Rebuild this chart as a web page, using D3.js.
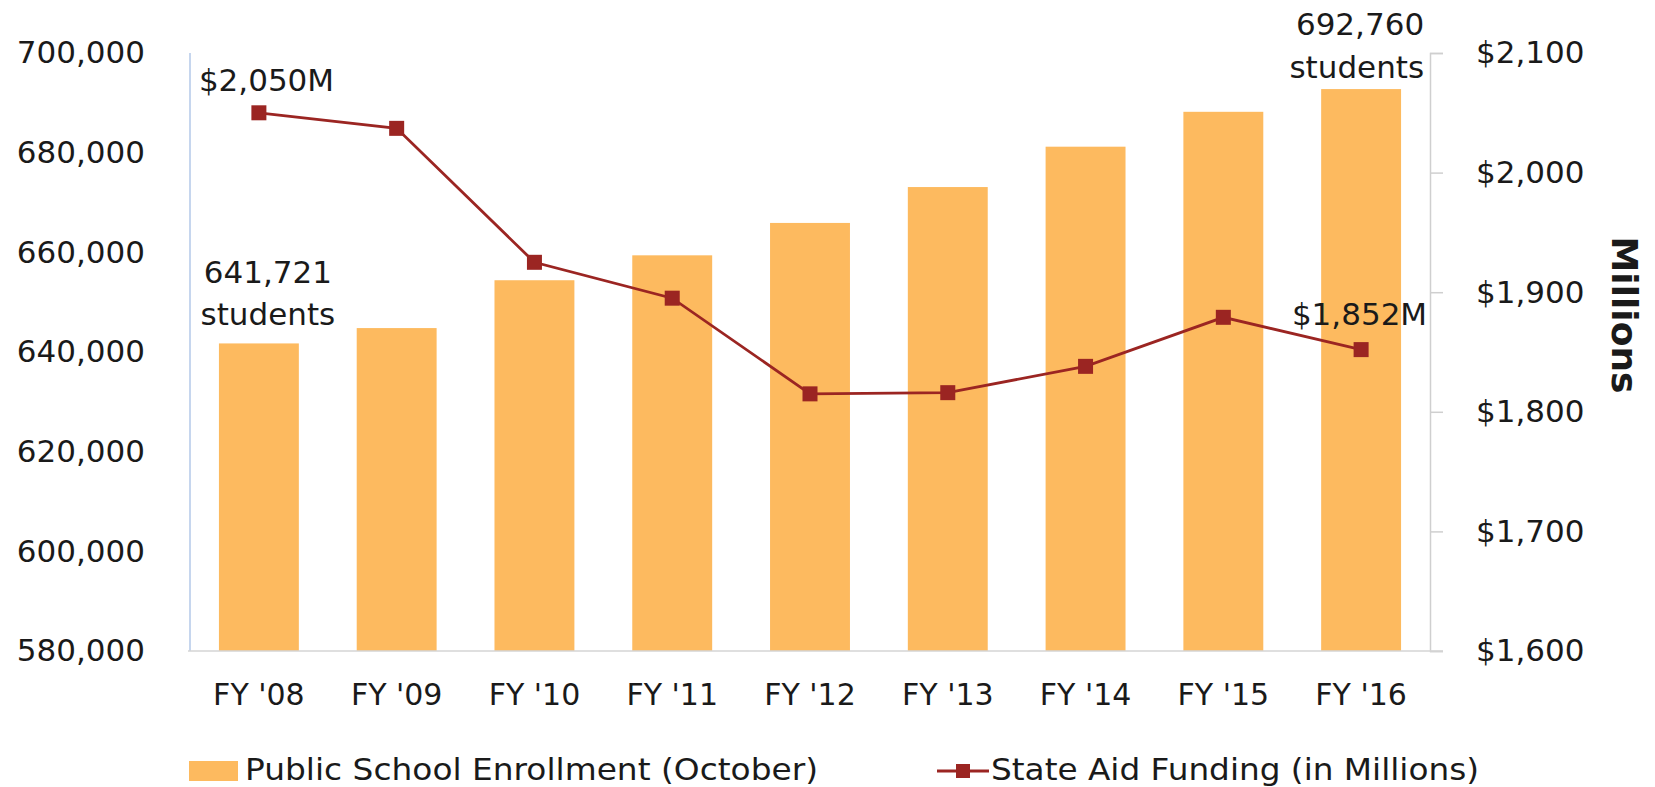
<!DOCTYPE html>
<html>
<head>
<meta charset="utf-8">
<script src="https://cdn.jsdelivr.net/npm/d3@7"></script>
<style>
  body { margin: 0; background: #fff; }
  text { font-family: "DejaVu Sans", sans-serif; fill: #1a1a1a; }
</style>
</head>
<body>
<div id="chart"></div>
<script>
var years = ["FY '08", "FY '09", "FY '10", "FY '11", "FY '12", "FY '13", "FY '14", "FY '15", "FY '16"];
var enrollment = [641721, 644800, 654400, 659400, 665900, 673100, 681200, 688200, 692760];
var stateAid = [2050, 2037, 1925, 1895, 1815, 1816, 1838, 1879, 1852];
var enrollTicks = [580000, 600000, 620000, 640000, 660000, 680000, 700000];
var aidTicks = [1600, 1700, 1800, 1900, 2000, 2100];

var barColor = "#fdba5f",
  lineColor = "#9b2522";

var width = 1655,
  height = 787;
var plot = { left: 190, right: 1430, top: 53, bottom: 651 };

var svg = d3.select("#chart")
  .append("svg")
  .attr("width", width)
  .attr("height", height);

var x = d3.scaleBand()
  .domain(years)
  .range([plot.left, plot.right])
  .paddingInner(0.42)
  .paddingOuter(0.21);

var yLeft = d3.scaleLinear()
  .domain([580000, 700000])
  .range([plot.bottom, plot.top]);

var yRight = d3.scaleLinear()
  .domain([1600, 2100])
  .range([plot.bottom, plot.top]);

function xc(i) {
  return x(years[i]) + x.bandwidth() / 2;
}

// bars
svg.append("g")
  .selectAll("rect")
  .data(enrollment)
  .enter()
  .append("rect")
  .attr("x", function(d, i) { return x(years[i]); })
  .attr("y", function(d) { return yLeft(d); })
  .attr("width", x.bandwidth())
  .attr("height", function(d) { return plot.bottom - yLeft(d); })
  .style("fill", barColor);

// left axis
var gl = svg.append("g")
  .attr("transform", "translate(" + plot.left + ",0)")
  .call(d3.axisLeft(yLeft).tickValues(enrollTicks).tickSize(0).tickPadding(45).tickFormat(d3.format(",")));
gl.select(".domain").remove();
gl.selectAll("text").style("font-size", "31px").style("font-family", "DejaVu Sans").attr("fill", "#1a1a1a");

svg.append("line")
  .attr("x1", plot.left).attr("x2", plot.left)
  .attr("y1", plot.top).attr("y2", plot.bottom)
  .attr("stroke", "#b3c9e8")
  .attr("stroke-width", 1.5);

// right axis
var gr = svg.append("g")
  .attr("transform", "translate(" + plot.right + ",0)")
  .call(d3.axisRight(yRight).tickValues(aidTicks).tickSize(13).tickSizeOuter(13).tickPadding(33)
    .tickFormat(function(d) { return "$" + d3.format(",")(d); }));
gr.selectAll("path, line").attr("stroke", "#cfcfcf").attr("stroke-width", 1.5);
gr.selectAll("text").style("font-size", "31px").style("font-family", "DejaVu Sans").attr("fill", "#1a1a1a");

// bottom axis
var gb = svg.append("g")
  .attr("transform", "translate(0," + plot.bottom + ")")
  .call(d3.axisBottom(x).tickSize(0).tickPadding(33));
gb.select(".domain").remove();
gb.selectAll("text").style("font-size", "30px").style("font-family", "DejaVu Sans").attr("fill", "#1a1a1a");

svg.append("line")
  .attr("x1", plot.left - 2).attr("x2", plot.right + 13)
  .attr("y1", plot.bottom).attr("y2", plot.bottom)
  .attr("stroke", "#d4d4d4")
  .attr("stroke-width", 1.5);

// state aid line
var valueline = d3.line()
  .x(function(d, i) { return xc(i); })
  .y(function(d) { return yRight(d); });

svg.append("path")
  .datum(stateAid)
  .attr("d", valueline)
  .attr("stroke", lineColor)
  .attr("stroke-width", 2.8)
  .style("fill", "none");

var ms = 15;
svg.append("g")
  .selectAll("rect")
  .data(stateAid)
  .enter()
  .append("rect")
  .attr("x", function(d, i) { return xc(i) - ms / 2; })
  .attr("y", function(d) { return yRight(d) - ms / 2; })
  .attr("width", ms)
  .attr("height", ms)
  .style("fill", lineColor);

// annotations
var last = years.length - 1;
svg.append("text")
  .attr("x", xc(0) - 60)
  .attr("y", yRight(stateAid[0]) - 22)
  .style("font-size", "31px")
  .text("$2,050M");

svg.append("text")
  .attr("x", xc(0) + 9)
  .attr("y", yLeft(enrollment[0]) - 60)
  .style("font-size", "31px")
  .style("text-anchor", "middle")
  .text("641,721");
svg.append("text")
  .attr("x", xc(0) + 9)
  .attr("y", yLeft(enrollment[0]) - 18)
  .style("font-size", "31px")
  .style("text-anchor", "middle")
  .text("students");

svg.append("text")
  .attr("x", xc(last) + 63)
  .attr("y", yLeft(enrollment[last]) - 54)
  .style("font-size", "31px")
  .style("text-anchor", "end")
  .text("692,760");
svg.append("text")
  .attr("x", xc(last) + 63)
  .attr("y", yLeft(enrollment[last]) - 11)
  .style("font-size", "31px")
  .style("text-anchor", "end")
  .text("students");

svg.append("text")
  .attr("x", xc(last) + 66)
  .attr("y", yRight(stateAid[last]) - 25)
  .style("font-size", "31px")
  .style("text-anchor", "end")
  .text("$1,852M");

// right axis title
svg.append("text")
  .attr("transform", "translate(1624,315) rotate(90)")
  .style("font-size", "36px")
  .style("font-weight", "bold")
  .style("text-anchor", "middle")
  .attr("dominant-baseline", "central")
  .text("Millions");

// legend
svg.append("rect")
  .attr("x", 189).attr("y", 761)
  .attr("width", 49).attr("height", 20)
  .style("fill", barColor);
svg.append("text")
  .attr("x", 245).attr("y", 780)
  .style("font-size", "31px")
  .attr("textLength", 573)
  .attr("lengthAdjust", "spacingAndGlyphs")
  .text("Public School Enrollment (October)");

svg.append("line")
  .attr("x1", 937).attr("x2", 989)
  .attr("y1", 771).attr("y2", 771)
  .attr("stroke", lineColor)
  .attr("stroke-width", 2.8);
svg.append("rect")
  .attr("x", 963 - 7).attr("y", 771 - 7)
  .attr("width", 14).attr("height", 14)
  .style("fill", lineColor);
svg.append("text")
  .attr("x", 991).attr("y", 780)
  .style("font-size", "31px")
  .attr("textLength", 488)
  .attr("lengthAdjust", "spacingAndGlyphs")
  .text("State Aid Funding (in Millions)");
</script>
</body>
</html>
